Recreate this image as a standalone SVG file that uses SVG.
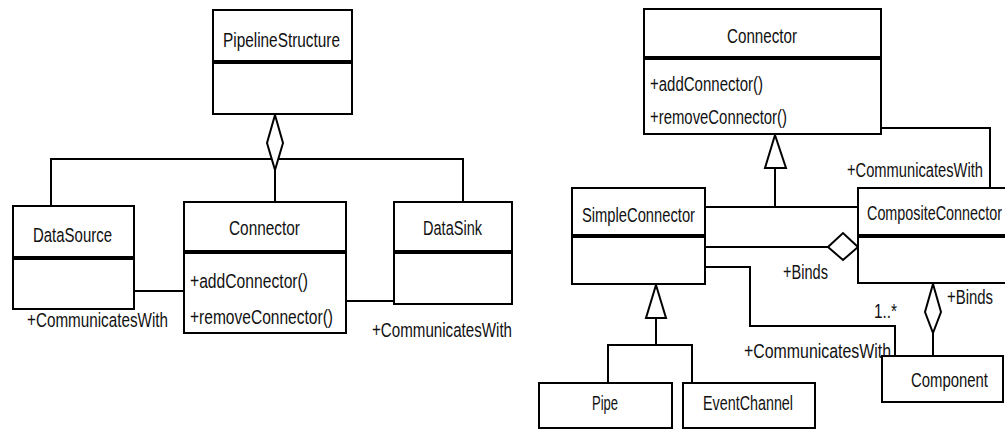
<svg xmlns="http://www.w3.org/2000/svg" width="1005" height="431" viewBox="0 0 1005 431">
<style>
.box{fill:#fff;stroke:#000;stroke-width:2}
.sep{stroke:#000;stroke-width:4}
.ln{fill:none;stroke:#000;stroke-width:2}
.hd{fill:#fff;stroke:#000;stroke-width:2}
text{font-family:"Liberation Sans",Arial,sans-serif;font-size:20.5px;fill:#111}
</style>
<rect width="1005" height="431" fill="#fff"/>
<g id="connectors">
<polyline class="ln" points="51,206 51,159 463,159 463,202"/>
<line class="ln" x1="275" y1="170" x2="275" y2="202"/>
<polygon class="hd" points="275,115 283,143 275,170 267,143"/>
<line class="ln" x1="134" y1="291" x2="184" y2="291"/>
<line class="ln" x1="346" y1="301" x2="394" y2="301"/>
<line class="ln" x1="775" y1="168" x2="775" y2="207"/>
<line class="ln" x1="705" y1="207" x2="858" y2="207"/>
<polygon class="hd" points="775,135 786,168 765,168"/>
<polyline class="ln" points="881,128 990,128 990,188"/>
<line class="ln" x1="705" y1="247" x2="828" y2="247"/>
<polygon class="hd" points="828,247 843,233 858,247 843,260"/>
<polyline class="ln" points="705,267 750,267 750,326 895,326 895,356"/>
<line class="ln" x1="933" y1="333" x2="933" y2="356"/>
<polygon class="hd" points="933,284 941,312 933,333 925,312"/>
<line class="ln" x1="656" y1="318" x2="656" y2="345"/>
<polyline class="ln" points="608,383 608,345 692,345 692,383"/>
<polygon class="hd" points="656,285 666,318 646,318"/>
</g>
<g id="labels">
<text x="27" y="327" textLength="141" lengthAdjust="spacingAndGlyphs">+CommunicatesWith</text>
<text x="372" y="337" textLength="140" lengthAdjust="spacingAndGlyphs">+CommunicatesWith</text>
<text x="847" y="177" textLength="136" lengthAdjust="spacingAndGlyphs">+CommunicatesWith</text>
<text x="783" y="279" textLength="45" lengthAdjust="spacingAndGlyphs">+Binds</text>
<text x="947" y="304" textLength="46" lengthAdjust="spacingAndGlyphs">+Binds</text>
<text x="874" y="318" textLength="23" lengthAdjust="spacingAndGlyphs">1..*</text>
<text x="744" y="358" textLength="147" lengthAdjust="spacingAndGlyphs">+CommunicatesWith</text>
</g>
<g id="PipelineStructure">
<rect class="box" x="213" y="10" width="139" height="104"/>
<line class="sep" x1="213" y1="62" x2="352" y2="62"/>
<text x="223" y="47" textLength="117" lengthAdjust="spacingAndGlyphs">PipelineStructure</text>
</g>
<g id="DataSource">
<rect class="box" x="13" y="206" width="121" height="103"/>
<line class="sep" x1="13" y1="258" x2="134" y2="258"/>
<text x="33" y="242" textLength="79" lengthAdjust="spacingAndGlyphs">DataSource</text>
</g>
<g id="ConnectorLeft">
<rect class="box" x="184" y="202" width="162" height="131"/>
<line class="sep" x1="184" y1="252" x2="346" y2="252"/>
<text x="229" y="235" textLength="71" lengthAdjust="spacingAndGlyphs">Connector</text>
<text x="190" y="288" textLength="118" lengthAdjust="spacingAndGlyphs">+addConnector()</text>
<text x="190" y="324" textLength="143" lengthAdjust="spacingAndGlyphs">+removeConnector()</text>
</g>
<g id="DataSink">
<rect class="box" x="394" y="202" width="118" height="102"/>
<line class="sep" x1="394" y1="252" x2="512" y2="252"/>
<text x="423" y="235" textLength="59" lengthAdjust="spacingAndGlyphs">DataSink</text>
</g>
<g id="ConnectorRight">
<rect class="box" x="644" y="9" width="237" height="125"/>
<line class="sep" x1="644" y1="58" x2="881" y2="58"/>
<text x="727" y="43" textLength="70" lengthAdjust="spacingAndGlyphs">Connector</text>
<text x="650" y="91" textLength="113" lengthAdjust="spacingAndGlyphs">+addConnector()</text>
<text x="650" y="124" textLength="137" lengthAdjust="spacingAndGlyphs">+removeConnector()</text>
</g>
<g id="SimpleConnector">
<rect class="box" x="572" y="188" width="133" height="96"/>
<line class="sep" x1="572" y1="236" x2="705" y2="236"/>
<text x="582" y="222" textLength="113" lengthAdjust="spacingAndGlyphs">SimpleConnector</text>
</g>
<g id="CompositeConnector">
<rect class="box" x="858" y="188" width="160" height="95"/>
<line class="sep" x1="858" y1="236" x2="1018" y2="236"/>
<text x="867" y="220" textLength="135" lengthAdjust="spacingAndGlyphs">CompositeConnector</text>
</g>
<g id="Component">
<rect class="box" x="882" y="356" width="121" height="46"/>
<text x="911" y="387" textLength="77" lengthAdjust="spacingAndGlyphs">Component</text>
</g>
<g id="Pipe">
<rect class="box" x="539" y="383" width="133" height="45"/>
<text x="592" y="410" textLength="26" lengthAdjust="spacingAndGlyphs">Pipe</text>
</g>
<g id="EventChannel">
<rect class="box" x="683" y="383" width="132" height="45"/>
<text x="703" y="410" textLength="90" lengthAdjust="spacingAndGlyphs">EventChannel</text>
</g>
</svg>
